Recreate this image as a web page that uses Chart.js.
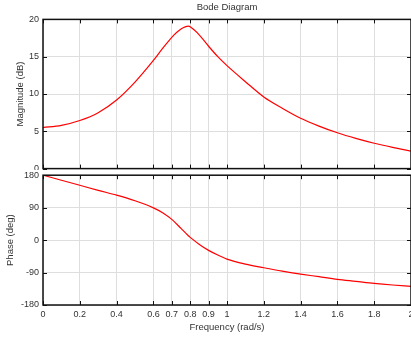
<!DOCTYPE html>
<html>
<head>
<meta charset="utf-8">
<script src="https://cdn.jsdelivr.net/npm/chart.js@4"></script>
<style>
html, body { margin: 0; padding: 0; background: #fff; }
#wrap { position: relative; width: 411px; height: 338px; overflow: hidden; }
canvas { position: absolute; left: 0; }
</style>
</head>
<body>
<div id="wrap">
  <canvas id="phaseChart" width="411" height="168" style="top:170px"></canvas>
  <canvas id="magChart" width="411" height="170" style="top:0"></canvas>
</div>
<script>
var freq = [0, 0.1, 0.2, 0.3, 0.4, 0.5, 0.6, 0.65, 0.7, 0.75, 0.79, 0.8, 0.85, 0.9, 0.95, 1.0, 1.1, 1.2, 1.3, 1.4, 1.5, 1.6, 1.7, 1.8, 1.9, 2.0];
var magnitude = [5.5, 5.8, 6.45, 7.5, 9.2, 11.6, 14.5, 16.1, 17.6, 18.7, 19.1, 19.0, 17.9, 16.4, 15.0, 13.8, 11.65, 9.6, 8.1, 6.75, 5.7, 4.8, 4.05, 3.4, 2.85, 2.35];
var phase = [180, 166, 152, 138, 124.6, 109, 89.5, 76, 57.5, 32.4, 12, 7.5, -11.9, -28.5, -41.5, -52.6, -66.5, -76.6, -86, -94.2, -101.5, -108.9, -114.4, -120, -124.6, -128.5];

var freqTicks = [0, 0.2, 0.4, 0.6, 0.7, 0.8, 0.9, 1, 1.2, 1.4, 1.6, 1.8, 2];
var magTicks = [0, 5, 10, 15, 20];
var phaseTicks = [-180, -90, 0, 90, 180];

var FONT = 'Liberation Sans, Arial, sans-serif';
var TEXT = '#333';
var GRID = '#dedede';

function points(ys) {
  return freq.map(function (f, i) { return { x: f, y: ys[i] }; });
}

// matlab style box with inward ticks
var boxTicks = {
  id: 'boxTicks',
  afterDatasetsDraw: function (chart) {
    var ctx = chart.ctx, a = chart.chartArea, sx = chart.scales.x, sy = chart.scales.y;
    ctx.save();
    ctx.strokeStyle = '#111';
    ctx.lineWidth = 1;
    ctx.beginPath();
    sx.ticks.forEach(function (t) {
      var p = Math.round(sx.getPixelForValue(t.value)) + 0.5;
      ctx.moveTo(p, a.top); ctx.lineTo(p, a.top + 4);
      ctx.moveTo(p, a.bottom); ctx.lineTo(p, a.bottom - 4);
    });
    sy.ticks.forEach(function (t) {
      var p = Math.round(sy.getPixelForValue(t.value)) + 0.5;
      ctx.moveTo(a.left, p); ctx.lineTo(a.left + 4, p);
      ctx.moveTo(a.right, p); ctx.lineTo(a.right - 4, p);
    });
    ctx.stroke();
    ctx.lineWidth = 1.5;
    ctx.strokeRect(a.left, a.top, a.right - a.left, a.bottom - a.top);
    ctx.restore();
  }
};

function xScale(showLabels) {
  return {
    type: 'linear',
    min: 0,
    max: 2,
    afterBuildTicks: function (s) { s.ticks = freqTicks.map(function (v) { return { value: v }; }); },
    afterFit: function (s) { s.height = showLabels ? 33 : 0; s.paddingLeft = 0; s.paddingRight = 0; },
    grid: { color: GRID, drawTicks: false },
    border: { display: false },
    ticks: {
      display: showLabels,
      padding: 4,
      maxRotation: 0,
      autoSkip: false,
      color: TEXT,
      font: { family: FONT, size: 9 },
      callback: function (v) { return String(v); }
    },
    title: {
      display: showLabels,
      text: 'Frequency (rad/s)',
      color: TEXT,
      font: { family: FONT, size: 9.5 },
      padding: { top: 0, bottom: 5 }
    }
  };
}

function yScale(tickList, label, titlePad) {
  return {
    type: 'linear',
    min: tickList[0],
    max: tickList[tickList.length - 1],
    afterBuildTicks: function (s) { s.ticks = tickList.map(function (v) { return { value: v }; }); },
    afterFit: function (s) { s.width = 43; s.paddingTop = 0; s.paddingBottom = 0; },
    grid: { color: GRID, drawTicks: false },
    border: { display: false },
    ticks: { padding: 4, color: TEXT, font: { family: FONT, size: 9 } },
    title: {
      display: true,
      text: label,
      color: TEXT,
      font: { family: FONT, size: 9.5 },
      padding: { top: titlePad, bottom: 0 }
    }
  };
}

function lineSet(ys) {
  return {
    data: points(ys),
    borderColor: '#ff0000',
    borderWidth: 1.2,
    pointRadius: 0,
    cubicInterpolationMode: 'monotone',
    fill: false
  };
}

new Chart(document.getElementById('magChart').getContext('2d'), {
  type: 'line',
  data: { datasets: [lineSet(magnitude)] },
  options: {
    responsive: false,
    animation: false,
    devicePixelRatio: 1,
    layout: { padding: { top: 0, bottom: 1.4, left: 0, right: 0 } },
    plugins: {
      legend: { display: false },
      tooltip: { enabled: false },
      title: {
        display: true,
        text: 'Bode Diagram',
        fullSize: false,
        color: TEXT,
        font: { family: FONT, size: 9.5, weight: 'normal' },
        padding: { top: 2, bottom: 6 }
      }
    },
    scales: { x: xScale(false), y: yScale(magTicks, 'Magnitude (dB)', 14.6) }
  },
  plugins: [boxTicks]
});

new Chart(document.getElementById('phaseChart').getContext('2d'), {
  type: 'line',
  data: { datasets: [lineSet(phase)] },
  options: {
    responsive: false,
    animation: false,
    devicePixelRatio: 1,
    layout: { padding: { top: 5.2, bottom: 0, left: 0, right: 0 } },
    plugins: { legend: { display: false }, tooltip: { enabled: false } },
    scales: { x: xScale(true), y: yScale(phaseTicks, 'Phase (deg)', 4.6) }
  },
  plugins: [boxTicks]
});
</script>
</body>
</html>
